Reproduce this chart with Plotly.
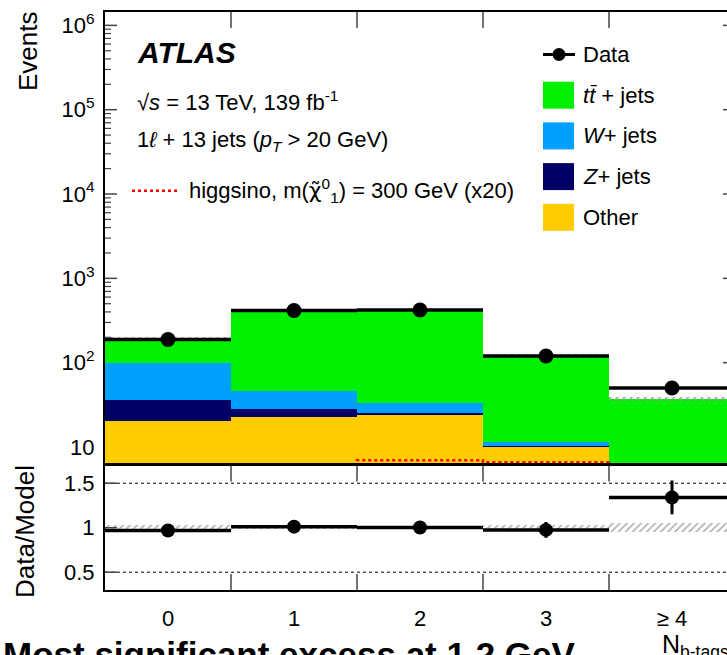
import numpy as np
import plotly.graph_objects as go

# ---------------- data ----------------
categories = ["0", "1", "2", "3", "≥ 4"]
data_events = [188, 415, 421, 120, 50]
other = [20.5, 22.9, 24.3, 10.2, 5.0]
z_jets = [15.5, 5.1, 1.2, 0.2, 0.1]
w_jets = [64.0, 18.5, 8.0, 1.1, 0.5]
ttbar = [94.0, 363.5, 386.5, 111.5, 31.7]
signal_x20 = [3.0, 5.0, 6.95, 6.6, 4.0]
model_rel_unc = [0.03, 0.02, 0.02, 0.03, 0.05]

main_ytick_vals = [1e1, 1e2, 1e3, 1e4, 1e5, 1e6]
main_ytick_text = ["10", "10<sup>2</sup>", "10<sup>3</sup>", "10<sup>4</sup>",
                   "10<sup>5</sup>", "10<sup>6</sup>"]
ratio_ytick_vals = [0.5, 1.0, 1.5]
ratio_ytick_text = ["0.5", "1", "1.5"]
ratio_ref_lines = [0.5, 1.5]

legend_names = ["<i>t</i><i>t̄</i> + jets", "<i>W</i>+ jets", "<i>Z</i>+ jets", "Other"]
legend_colors = ["#00f000", "#00a0ff", "#000066", "#ffcc00"]
stack_names = ["Other", "Z+jets", "W+jets", "ttbar+jets"]
stack_colors = ["#ffcc00", "#000066", "#00a0ff", "#00f000"]

# ---------------- geometry ----------------
W, H = 727, 655
ML, MR, MT, MB = 105, 0, 12, 65
PW, PH = W - ML - MR, H - MT - MB
BIN_PX = 126.0
MAIN_DOM = [0.2175, 1.0]
RATIO_DOM = [0.0, 0.2155]
TICK_MAJOR, TICK_MINOR, TICK_X = 12, 6, 16


def px_x(px):
    return (px - ML) / PW


def px_y(py):
    return (H - MB - py) / PH


x = np.arange(len(categories), dtype=float)
edges = np.append(x - 0.5, x[-1] + 0.5)
x_right = -0.5 + PW / BIN_PX

total = np.array(other) + np.array(z_jets) + np.array(w_jets) + np.array(ttbar)
unc = total * np.array(model_rel_unc)
data = np.array(data_events, dtype=float)
ratio = data / total
ratio_err = np.sqrt(data) / total

y_lo, y_hi = np.log10(6.24), np.log10(1.44e6)
main_minor_y = [m * 10 ** d for d in range(0, 7) for m in range(2, 10)]


def main_y_paper(v):
    """paper y of a value on the main (log) axis"""
    return MAIN_DOM[0] + (np.log10(v) - y_lo) / (y_hi - y_lo) * (MAIN_DOM[1] - MAIN_DOM[0])


def x_paper(xv):
    """paper x of a value on the shared category axis"""
    return (xv + 0.5) / (x_right + 0.5)


FONT = "Liberation Sans, Arial, Helvetica, sans-serif"
TICKC = "#444444"
fig = go.Figure()

# stacked backgrounds
for name, vals, col in zip(stack_names, [other, z_jets, w_jets, ttbar], stack_colors):
    fig.add_trace(go.Bar(x=x, y=vals, width=1.0, name=name, marker=dict(color=col, line=dict(width=0)),
                         xaxis="x", yaxis="y", showlegend=False, hoverinfo="skip"))

# model uncertainty (hatched)
fig.add_trace(go.Bar(x=x, y=2 * unc, base=total - unc, width=1.0, xaxis="x", yaxis="y", showlegend=False,
                     hoverinfo="skip",
                     marker=dict(color="rgba(0,0,0,0)", line=dict(width=0),
                                 pattern=dict(shape="/", fgcolor="#999999", bgcolor="rgba(0,0,0,0)",
                                              size=5, solidity=0.3))))

# signal (dotted red step)
sig_x = list(edges)
sig_y = list(signal_x20) + [signal_x20[-1]]
fig.add_trace(go.Scatter(x=sig_x, y=sig_y, mode="lines", line_shape="hv",
                         line=dict(color="red", dash="dot", width=2.5), xaxis="x", yaxis="y", showlegend=False))

# data
fig.add_trace(go.Scatter(x=x, y=data, mode="markers", marker=dict(color="black", size=15),
                         error_x=dict(type="constant", value=0.5, thickness=3.5, width=0, color="black"),
                         error_y=dict(type="data", array=np.sqrt(data), thickness=2.5, width=0, color="black"),
                         xaxis="x", yaxis="y", showlegend=False))

# ratio band
fig.add_trace(go.Bar(x=x, y=2 * np.array(model_rel_unc), base=1 - np.array(model_rel_unc), width=1.0,
                     xaxis="x2", yaxis="y2", showlegend=False, hoverinfo="skip",
                     marker=dict(color="rgba(0,0,0,0)", line=dict(width=0),
                                 pattern=dict(shape="/", fgcolor="#aaaaaa", bgcolor="rgba(0,0,0,0)",
                                              size=5, solidity=0.3))))
# ratio data
fig.add_trace(go.Scatter(x=x, y=ratio, mode="markers", marker=dict(color="black", size=14),
                         error_x=dict(type="constant", value=0.5, thickness=3.5, width=0, color="black"),
                         error_y=dict(type="data", array=ratio_err, thickness=3, width=0, color="black"),
                         xaxis="x2", yaxis="y2", showlegend=False))

axis_common = dict(showline=True, linecolor="black", linewidth=2, showgrid=False, zeroline=False,
                   automargin=False, ticks="", tickfont=dict(family=FONT, size=22, color="black"))

fig.update_layout(
    template="none",
    width=W, height=H, margin=dict(l=ML, r=MR, t=MT, b=MB, autoexpand=False),
    paper_bgcolor="white", plot_bgcolor="rgba(0,0,0,0)",
    barmode="stack", bargap=0, showlegend=False,
    font=dict(family=FONT, color="black"),
    xaxis=dict(domain=[0, 1], anchor="y", range=[-0.5, x_right], tickmode="array", tickvals=list(x),
               showticklabels=False, mirror=True, **axis_common),
    yaxis=dict(domain=MAIN_DOM, anchor="x", type="log", range=[y_lo, y_hi], tickmode="array",
               tickvals=main_ytick_vals, ticktext=main_ytick_text, ticklabelstandoff=4, **axis_common),
    xaxis2=dict(domain=[0, 1], anchor="y2", range=[-0.5, x_right], tickmode="array", tickvals=list(x),
                ticktext=categories, ticklabelstandoff=8, mirror=True, **axis_common),
    yaxis2=dict(domain=RATIO_DOM, anchor="x2", range=[0.3, 1.7], tickmode="array",
                tickvals=ratio_ytick_vals, ticktext=ratio_ytick_text, ticklabelstandoff=4, **axis_common),
)

shapes = []
tick_line = dict(color=TICKC, width=1.5)


def seg(x0, x1, y0, y1, line=tick_line):
    shapes.append(dict(type="line", xref="paper", yref="paper", x0=x0, x1=x1, y0=y0, y1=y1,
                       line=line, layer="above"))


# x ticks at bin boundaries (main top, ratio top and bottom)
for e in edges[1:-1]:
    xp = x_paper(e)
    seg(xp, xp, MAIN_DOM[1], MAIN_DOM[1] - TICK_X / PH)
    seg(xp, xp, RATIO_DOM[1], RATIO_DOM[1] - TICK_X / PH)
    seg(xp, xp, RATIO_DOM[0], RATIO_DOM[0] + TICK_X / PH)

# y ticks of the main panel; like the reference, hidden where the stacked histogram covers them
left_cover = total[0] + unc[0]
right_cover = total[-1] + unc[-1]
x_right_axis = x_paper(edges[-1])
for v in main_ytick_vals:
    yp = main_y_paper(v)
    if v > left_cover and yp <= 1:
        seg(0, TICK_MAJOR / PW, yp, yp)
    if v > right_cover and yp <= 1:
        seg(x_right_axis, x_right_axis - TICK_MAJOR / PW, yp, yp)  # cropped right-hand axis
for v in main_minor_y:
    yp = main_y_paper(v)
    if v > left_cover and yp < 1:
        seg(0, TICK_MINOR / PW, yp, yp, line=dict(color=TICKC, width=1.2))

# ratio y ticks
for v in ratio_ytick_vals:
    yp = RATIO_DOM[0] + (v - 0.3) / (1.7 - 0.3) * (RATIO_DOM[1] - RATIO_DOM[0])
    seg(0, TICK_MAJOR / PW, yp, yp)

for yv in ratio_ref_lines:
    shapes.append(dict(type="line", xref="x2 domain", x0=0, x1=1, yref="y2", y0=yv, y1=yv,
                       line=dict(color="black", width=1, dash="dot"), layer="below"))

annotations = []


def txt(text, px, py, size, xanchor="left", yanchor="middle", angle=0, **kw):
    annotations.append(dict(text=text, x=px_x(px), y=px_y(py), xref="paper", yref="paper",
                            xanchor=xanchor, yanchor=yanchor, showarrow=False, textangle=angle,
                            font=dict(family=FONT, size=size, color="black"), **kw))


# axis titles
txt("Events", 28, 9, 26, xanchor="center", yanchor="top", angle=-90)
txt("Data/Model", 25, 532, 26, xanchor="center", yanchor="middle", angle=-90)
txt("N<sub>b-tags</sub>", 660, 628, 25, xanchor="left", yanchor="top")

# labels
txt("<b><i>ATLAS</i></b>", 135, 53, 30)
txt("√<i>s</i> = 13 TeV, 139 fb<sup>-1</sup>", 135, 101, 22)
txt("1<i>ℓ</i> + 13 jets (<i>p</i><sub><i>T</i></sub> > 20 GeV)", 135, 141, 22)
txt("higgsino, m(<span style=\"font-family:DejaVu Sans\">χ̃</span><sup>0</sup><sub>1</sub>) = 300 GeV (x20)",
    187, 191, 22)
shapes.append(dict(type="line", xref="paper", yref="paper", x0=px_x(132), x1=px_x(178),
                   y0=px_y(190.7), y1=px_y(190.7), line=dict(color="red", width=2.5, dash="dot")))

# legend (custom, large swatches)
leg_y = [54.5, 95.2, 135.9, 176.6, 217.3]
shapes.append(dict(type="line", xref="paper", yref="paper", x0=px_x(543), x1=px_x(575),
                   y0=px_y(leg_y[0]), y1=px_y(leg_y[0]), line=dict(color="black", width=3)))
shapes.append(dict(type="circle", xref="paper", yref="paper", x0=px_x(552.5), x1=px_x(565.5),
                   y0=px_y(leg_y[0] - 6.5), y1=px_y(leg_y[0] + 6.5), fillcolor="black",
                   line=dict(color="black", width=0)))
txt("Data", 581, leg_y[0], 22)
for name, col, yc in zip(legend_names, legend_colors, leg_y[1:]):
    shapes.append(dict(type="rect", xref="paper", yref="paper", x0=px_x(543), x1=px_x(574),
                       y0=px_y(yc - 13.5), y1=px_y(yc + 13.5), fillcolor=col, line=dict(width=0)))
    txt(name, 581, yc, 22)

# cropped caption from below the figure
annotations.append(dict(text="<b>Most significant excess at 1.2 GeV</b>", x=px_x(1), y=px_y(633),
                        xref="paper", yref="paper", xanchor="left", yanchor="top", showarrow=False,
                        font=dict(family=FONT, size=35, color="black")))

fig.update_layout(shapes=shapes, annotations=annotations)
fig.write_html("out.html", post_script="document.body.style.margin='0px';",
               config={"displayModeBar": False})
